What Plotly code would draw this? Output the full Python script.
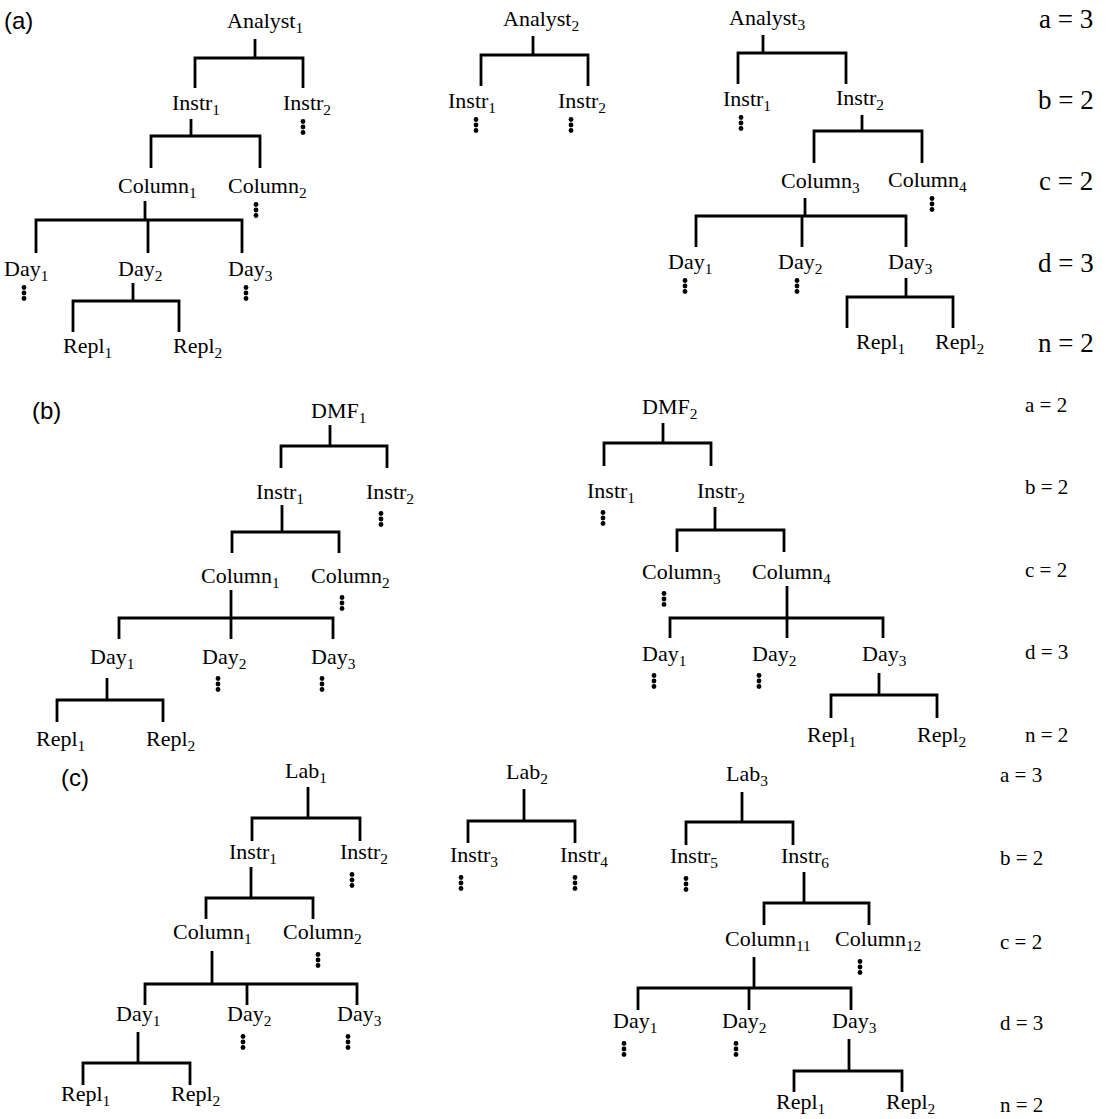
import plotly.graph_objects as go

W, H = 1106, 1119

# ======================= DATA (labels and tree structure) =======================
# Panel (a): analyst trees
a1_names = ["Analyst", "Instr", "Instr", "Column", "Column", "Day", "Day", "Day", "Repl", "Repl"]
a1_subs = ["1", "1", "2", "1", "2", "1", "2", "3", "1", "2"]
a1_parent = [None, 0, 0, 1, 1, 3, 3, 3, 6, 6]
a1_open = [2, 4, 5, 7]

a2_names = ["Analyst", "Instr", "Instr"]
a2_subs = ["2", "1", "2"]
a2_parent = [None, 0, 0]
a2_open = [1, 2]

a3_names = ["Analyst", "Instr", "Instr", "Column", "Column", "Day", "Day", "Day", "Repl", "Repl"]
a3_subs = ["3", "1", "2", "3", "4", "1", "2", "3", "1", "2"]
a3_parent = [None, 0, 0, 2, 2, 3, 3, 3, 7, 7]
a3_open = [1, 4, 5, 6]

# Panel (b): DMF trees
b1_names = ["DMF", "Instr", "Instr", "Column", "Column", "Day", "Day", "Day", "Repl", "Repl"]
b1_subs = ["1", "1", "2", "1", "2", "1", "2", "3", "1", "2"]
b1_parent = [None, 0, 0, 1, 1, 3, 3, 3, 5, 5]
b1_open = [2, 4, 6, 7]

b2_names = ["DMF", "Instr", "Instr", "Column", "Column", "Day", "Day", "Day", "Repl", "Repl"]
b2_subs = ["2", "1", "2", "3", "4", "1", "2", "3", "1", "2"]
b2_parent = [None, 0, 0, 2, 2, 4, 4, 4, 7, 7]
b2_open = [1, 3, 5, 6]

# Panel (c): lab trees
c1_names = ["Lab", "Instr", "Instr", "Column", "Column", "Day", "Day", "Day", "Repl", "Repl"]
c1_subs = ["1", "1", "2", "1", "2", "1", "2", "3", "1", "2"]
c1_parent = [None, 0, 0, 1, 1, 3, 3, 3, 5, 5]
c1_open = [2, 4, 6, 7]

c2_names = ["Lab", "Instr", "Instr"]
c2_subs = ["2", "3", "4"]
c2_parent = [None, 0, 0]
c2_open = [1, 2]

c3_names = ["Lab", "Instr", "Instr", "Column", "Column", "Day", "Day", "Day", "Repl", "Repl"]
c3_subs = ["3", "5", "6", "11", "12", "1", "2", "3", "1", "2"]
c3_parent = [None, 0, 0, 2, 2, 3, 3, 3, 7, 7]
c3_open = [1, 4, 5, 6]

# Factor level counts shown on the right of each panel
factor_symbols = ["a", "b", "c", "d", "n"]
a_levels = [3, 2, 2, 3, 2]
b_levels = [2, 2, 2, 3, 2]
c_levels = [3, 2, 2, 3, 2]
panel_tags = ["(a)", "(b)", "(c)"]

# ======================= LAYOUT (pixel positions, kept separate) =======================
# per node: (label_x, label_y, link_x [drop from parent bar], stem_x [stem to children / ellipsis])
a1_xy = [(265, 22, None, 255), (196, 104, 195, 191), (307, 104, 303, 303),
         (157, 187, 151, 145), (267, 187, 260, 256),
         (26, 270, 36, 24), (140, 270, 148, 133), (250, 270, 242, 246),
         (87, 347, 73, None), (197, 347, 179, None)]
a1_conn = {0: (39, 58, 88), 1: (119, 136, 168), 3: (201, 220, 253), 6: (283, 301, 332)}

a2_xy = [(541, 20, None, 533), (472, 102, 481, 476), (582, 102, 588, 571)]
a2_conn = {0: (36, 55, 86)}

a3_xy = [(767, 19, None, 763), (747, 100, 738, 741), (860, 99, 846, 862),
         (820, 182, 814, 805), (927, 181, 922, 932),
         (690, 263, 696, 685), (800, 263, 802, 797), (910, 263, 906, 906),
         (880, 343, 847, None), (959, 343, 953, None)]
a3_conn = {0: (35, 53, 84), 2: (115, 131, 163), 3: (198, 216, 247), 7: (278, 297, 328)}

b1_xy = [(338, 412, None, 330), (280, 493, 281, 282), (390, 493, 387, 381),
         (240, 577, 232, 231), (350, 577, 339, 342),
         (112, 658, 119, 107), (224, 658, 231, 218), (333, 658, 333, 322),
         (60, 740, 57, None), (170, 740, 163, None)]
b1_conn = {0: (425, 446, 468), 1: (505, 532, 553), 3: (590, 618, 639), 5: (678, 700, 722)}

b2_xy = [(669, 408, None, 663), (611, 492, 604, 603), (721, 492, 711, 715),
         (681, 573, 677, 664), (791, 573, 784, 787),
         (664, 655, 670, 654), (774, 655, 787, 759), (884, 655, 883, 879),
         (831, 736, 831, None), (941, 736, 937, None)]
b2_conn = {0: (423, 443, 466), 2: (507, 530, 552), 4: (586, 618, 638), 7: (673, 695, 718)}

c1_xy = [(306, 772, None, 308), (253, 853, 252, 251), (364, 853, 360, 352),
         (212, 933, 206, 212), (322, 933, 313, 318),
         (138, 1015, 145, 138), (249, 1015, 247, 243), (359, 1015, 357, 348),
         (85, 1095, 83, None), (195, 1095, 190, None)]
c1_conn = {0: (787, 818, 841), 1: (867, 898, 919), 3: (951, 984, 1005), 5: (1032, 1063, 1085)}

c2_xy = [(527, 773, None, 524), (474, 856, 468, 461), (584, 856, 575, 575)]
c2_conn = {0: (789, 821, 843)}

c3_xy = [(747, 775, None, 742), (694, 857, 686, 686), (805, 857, 793, 804),
         (768, 940, 764, 754), (878, 940, 869, 860),
         (635, 1022, 638, 624), (744, 1022, 749, 736), (854, 1022, 851, 849),
         (800, 1103, 794, None), (910, 1103, 902, None)]
c3_conn = {0: (792, 822, 845), 2: (872, 903, 925), 3: (957, 988, 1010), 7: (1039, 1071, 1092)}

trees = [
    (a1_names, a1_subs, a1_parent, a1_open, a1_xy, a1_conn, 23),
    (a2_names, a2_subs, a2_parent, a2_open, a2_xy, a2_conn, 23),
    (a3_names, a3_subs, a3_parent, a3_open, a3_xy, a3_conn, 23),
    (b1_names, b1_subs, b1_parent, b1_open, b1_xy, b1_conn, 26),
    (b2_names, b2_subs, b2_parent, b2_open, b2_xy, b2_conn, 26),
    (c1_names, c1_subs, c1_parent, c1_open, c1_xy, c1_conn, 27),
    (c2_names, c2_subs, c2_parent, c2_open, c2_xy, c2_conn, 27),
    (c3_names, c3_subs, c3_parent, c3_open, c3_xy, c3_conn, 27),
]

level_cols = [(a_levels, 1066, [19, 100, 181, 263, 343], 27),
              (b_levels, 1046, [405, 487, 570, 652, 735], 21),
              (c_levels, 1021, [775, 858, 942, 1023, 1105], 21)]
tag_xy = [(18, 20), (46, 410), (75, 777)]

SERIF = "Liberation Serif, Times New Roman, serif"
SANS = "Liberation Sans, Arial, sans-serif"
NODE_FONT = 22
LINE_W = 2.8
DOT_GAP = 5.5

# ======================= BUILD =======================
lx, ly = [], []
dx, dy = [], []
annotations = []


def poly(xs, ys):
    lx.extend(xs + [None])
    ly.extend(ys + [None])


for names, subs, parent, opened, xy, conn, dot_off in trees:
    # connectors
    for p, (top, bar, bot) in conn.items():
        kids = [i for i, q in enumerate(parent) if q == p]
        sx = xy[p][3]
        poly([sx, sx], [top, bar])
        kx = [xy[k][2] for k in kids]
        left, right = min(kx), max(kx)
        poly([left, left, right, right], [bot, bar, bar, bot])
        for k in kids:
            if xy[k][2] not in (left, right):
                poly([xy[k][2], xy[k][2]], [bar, bot])
    # labels
    for i, (nm, sb) in enumerate(zip(names, subs)):
        x, y = xy[i][0], xy[i][1]
        annotations.append(dict(x=x, y=y, xref="x", yref="y", showarrow=False,
                                text=f"{nm}<sub>{sb}</sub>", xanchor="center", yanchor="middle",
                                font=dict(family=SERIF, size=NODE_FONT, color="black")))
    # vertical ellipses
    for i in opened:
        ex = xy[i][3]
        ec = xy[i][1] + dot_off
        for k in (-1, 0, 1):
            dx.append(ex)
            dy.append(ec + k * DOT_GAP)

for (levels, x, ys, fs) in level_cols:
    for sym, val, y in zip(factor_symbols, levels, ys):
        annotations.append(dict(x=x, y=y, xref="x", yref="y", showarrow=False,
                                text=f"{sym} = {val}", xanchor="center", yanchor="middle",
                                font=dict(family=SERIF, size=fs, color="black")))

for tag, (x, y) in zip(panel_tags, tag_xy):
    annotations.append(dict(x=x, y=y, xref="x", yref="y", showarrow=False,
                            text=tag, xanchor="center", yanchor="middle",
                            font=dict(family=SANS, size=24, color="black")))

fig = go.Figure()
fig.add_trace(go.Scatter(x=lx, y=ly, mode="lines", line=dict(color="black", width=LINE_W),
                         hoverinfo="skip", showlegend=False, connectgaps=False))
fig.add_trace(go.Scatter(x=dx, y=dy, mode="markers", marker=dict(color="black", size=4.8),
                         hoverinfo="skip", showlegend=False))

fig.update_layout(
    width=W, height=H, margin=dict(l=0, r=0, t=0, b=0),
    paper_bgcolor="white", plot_bgcolor="white",
    xaxis=dict(range=[0, W], visible=False, fixedrange=True),
    yaxis=dict(range=[H, 0], visible=False, fixedrange=True),
    annotations=annotations,
)

fig.write_html(
    "out.html",
    config={"displayModeBar": False},
    post_script="document.body.style.margin='0';document.body.style.overflow='hidden';",
)
